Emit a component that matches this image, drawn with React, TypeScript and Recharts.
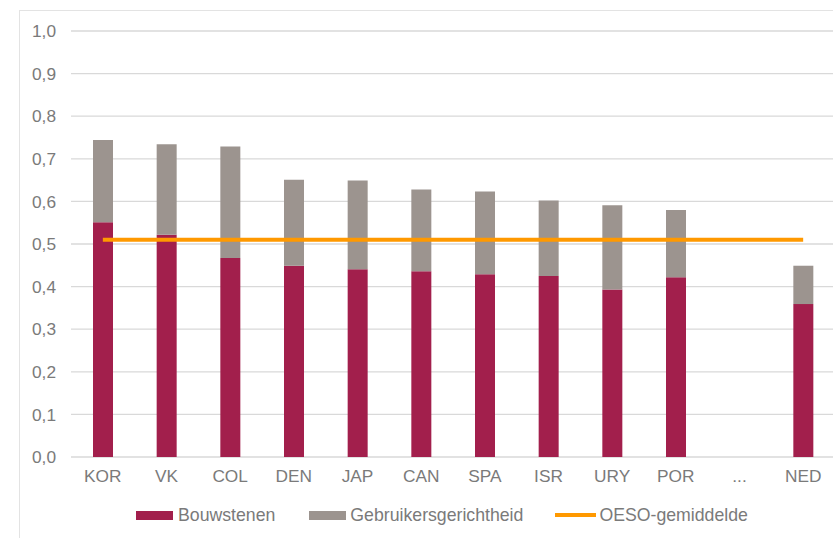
import { ComposedChart, Bar, Line, XAxis, YAxis, CartesianGrid, Legend } from "recharts";

// landen
const countries = ["KOR", "VK", "COL", "DEN", "JAP", "CAN", "SPA", "ISR", "URY", "POR", "...", "NED"];
// scores per onderdeel
const bouwstenen = [0.551, 0.522, 0.467, 0.449, 0.441, 0.436, 0.429, 0.425, 0.393, 0.422, null, 0.359];
const gebruikers = [0.193, 0.212, 0.262, 0.202, 0.208, 0.192, 0.194, 0.177, 0.198, 0.158, null, 0.09];
const oesoGemiddelde = 0.51;
const yTicks = [0, 0.1, 0.2, 0.3, 0.4, 0.5, 0.6, 0.7, 0.8, 0.9, 1.0];

const data = countries.map((name, i) => ({
  name,
  bouw: bouwstenen[i],
  gebr: gebruikers[i],
  oeso: oesoGemiddelde,
}));

const textColor = "#7a7a7a";
const font = "'Liberation Sans', Arial, sans-serif";

const legendItems = [
  { label: "Bouwstenen", color: "#A21F4C", w: 37, h: 9, gap: 5 },
  { label: "Gebruikersgerichtheid", color: "#9C948F", w: 37, h: 9, gap: 4 },
  { label: "OESO-gemiddelde", color: "#FF9900", w: 41, h: 4, gap: 3 },
];

function LegendContent() {
  return (
    <div style={{ display: "flex", alignItems: "center", paddingLeft: 136, fontFamily: font, fontSize: 17.7, color: textColor, height: 24 }}>
      {legendItems.map((it, i) => (
        <div key={it.label} style={{ display: "flex", alignItems: "center", marginRight: i === 0 ? 34 : 32 }}>
          <span style={{ display: "inline-block", width: it.w, height: it.h, background: it.color, marginRight: it.gap }} />
          <span>{it.label}</span>
        </div>
      ))}
    </div>
  );
}

export default function App() {
  return (
    <div style={{ position: "absolute", left: 0, top: 0, width: 833, height: 538, overflow: "hidden", background: "#fff" }}>
      <div style={{ position: "absolute", left: 19, top: 10, width: 900, height: 700, border: "1px solid #e3e3e3" }} />
      <ComposedChart
        width={833}
        height={538}
        data={data}
        margin={{ top: 31, right: -2, bottom: 51, left: 0 }}
        style={{ fontFamily: font }}
      >
        <CartesianGrid vertical={false} stroke="#d9d9d9" strokeWidth={1.3} />
        <XAxis
          dataKey="name"
          interval={0}
          tickLine={false}
          axisLine={false}
          tickMargin={7}
          tick={{ fill: textColor, fontSize: 17.3 }}
        />
        <YAxis
          width={71}
          domain={[0, 1]}
          ticks={yTicks}
          tickLine={false}
          axisLine={false}
          tickMargin={9}
          tickFormatter={(v: number) => v.toFixed(1).replace(".", ",")}
          tick={{ fill: textColor, fontSize: 17.3 }}
        />
        <Bar dataKey="bouw" stackId="a" fill="#A21F4C" barSize={20} isAnimationActive={false} />
        <Bar dataKey="gebr" stackId="a" fill="#9C948F" barSize={20} isAnimationActive={false} />
        <Line type="linear" dataKey="oeso" stroke="#FF9900" strokeWidth={4} dot={false} activeDot={false} isAnimationActive={false} />
        <Legend
          verticalAlign="middle"
          content={() => <LegendContent />}
          wrapperStyle={{ position: "absolute", top: 503, left: 0, width: 833 }}
        />
      </ComposedChart>
    </div>
  );
}
